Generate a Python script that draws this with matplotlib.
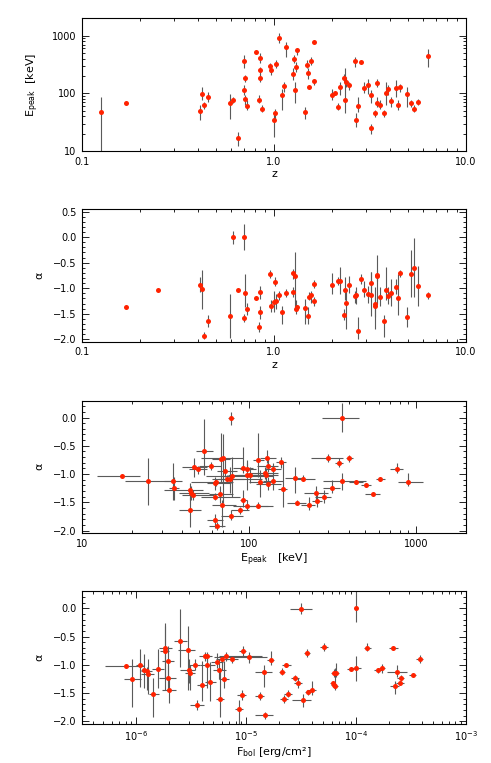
import numpy as np
import matplotlib
matplotlib.use("Agg")
import matplotlib.pyplot as plt
from matplotlib.ticker import NullFormatter, LogLocator, MultipleLocator

plt.rcParams['font.family'] = ['DejaVu Sans']
plt.rcParams['mathtext.default'] = 'regular'

# ---- panel 1: Epeak vs z ----
z1 = [0.125, 0.169, 0.41, 0.424, 0.434, 0.451, 0.592, 0.61, 0.652, 0.698,
      0.698, 0.705, 0.71, 0.72, 0.803, 0.846, 0.844, 0.846, 0.836, 0.862,
      0.957, 0.965, 1.0, 1.012, 1.024, 1.062, 1.10, 1.123, 1.159, 1.266,
      1.26, 1.291, 1.30, 1.318, 1.444, 1.486, 1.50, 1.527, 1.559, 1.609,
      1.622, 1.997, 2.07, 2.146, 2.208, 2.306, 2.344, 2.37, 2.448, 2.63,
      2.67, 2.74, 2.84, 2.93, 3.10, 3.21, 3.22, 3.36, 3.45, 3.45,
      3.57, 3.73, 3.81, 3.92, 4.08, 4.30, 4.42, 4.53, 4.91, 5.15,
      5.34, 5.65, 6.34]
ep1 = [48, 67, 49, 97, 64, 88, 69, 78, 17, 362,
       115, 79, 184, 61, 513, 409, 256, 188, 78, 54,
       297, 253, 35, 46, 317, 911, 92, 133, 627, 398,
       213, 115, 285, 556, 47, 309, 230, 130, 362, 787,
       161, 95, 101, 58, 130, 188, 78, 158, 139, 362,
       35, 61, 348, 126, 139, 92, 25, 45, 154, 68,
       63, 45, 101, 117, 75, 123, 62, 128, 97, 69,
       54, 71, 438]
ep1_lo = [5, 67, 34, 76, 54, 71, 36, 67, 12.2, 270,
          93, 62, 158, 51, 513, 330, 207, 158, 67, 48,
          236, 207, 17.5, 36, 270, 736, 51, 106, 431, 330,
          169, 67, 236, 461, 36, 270, 181, 130, 309, 787,
          139, 76, 101, 51, 93, 158, 45, 130, 114, 289,
          26, 48, 348, 102, 97, 67, 20, 39, 130, 58,
          54, 39, 62, 93, 58, 87, 51, 106, 58, 58,
          48, 62, 289]
ep1_hi = [87, 67, 62, 130, 71, 106, 99, 87, 21, 461,
          139, 93, 207, 76, 513, 493, 289, 221, 93, 62,
          330, 289, 45, 54, 377, 1098, 121, 158, 786, 461,
          270, 158, 353, 603, 58, 377, 270, 130, 431, 787,
          181, 121, 101, 67, 158, 221, 270, 194, 158, 431,
          45, 87, 348, 158, 181, 114, 30, 51, 181, 87,
          76, 51, 158, 139, 87, 169, 76, 148, 130, 76,
          62, 81, 578]

# ---- panel 2: alpha vs z ----
z2 = [0.169, 0.25, 0.41, 0.424, 0.434, 0.451, 0.592, 0.61, 0.652, 0.698,
      0.698, 0.705, 0.72, 0.803, 0.846, 0.844, 0.836, 0.957, 0.965, 1.0,
      1.012, 1.024, 1.062, 1.10, 1.159, 1.26, 1.26, 1.291, 1.30, 1.318,
      1.444, 1.50, 1.527, 1.559, 1.609, 1.622, 1.997, 2.146, 2.208, 2.306,
      2.344, 2.37, 2.448, 2.63, 2.67, 2.74, 2.84, 2.93, 3.10, 3.21,
      3.22, 3.36, 3.37, 3.44, 3.45, 3.57, 3.73, 3.81, 3.92, 4.08,
      4.30, 4.42, 4.53, 4.91, 5.15, 5.34, 5.65, 6.34]
al2 = [-1.36, -1.03, -0.93, -1.02, -1.94, -1.64, -1.55, 0.0, -1.04, 0.0,
       -1.58, -1.10, -1.40, -1.20, -1.07, -1.47, -1.76, -0.72, -1.35, -1.27,
       -0.87, -1.26, -1.14, -1.47, -1.09, -0.71, -1.08, -0.76, -1.40, -1.36,
       -1.38, -1.55, -1.17, -1.13, -0.92, -1.26, -0.93, -0.85, -0.85, -1.53,
       -1.03, -1.29, -0.93, -1.15, -1.13, -1.83, -0.82, -1.03, -1.12, -0.89,
       -1.13, -1.31, -1.35, -0.77, -0.75, -1.17, -1.64, -1.03, -1.15, -1.09,
       -0.98, -1.19, -0.71, -1.57, -0.72, -0.60, -0.95, -1.14]
al2_lo = [-1.36, -1.03, -1.08, -1.40, -1.99, -1.76, -1.97, -0.13, -1.04, -0.26,
          -1.66, -1.37, -1.53, -1.20, -1.21, -1.60, -1.86, -0.80, -1.47, -1.47,
          -0.95, -1.40, -1.24, -1.71, -1.17, -0.82, -1.18, -1.40, -1.50, -1.40,
          -1.70, -1.70, -1.24, -1.28, -1.00, -1.34, -1.11, -0.93, -1.11, -1.63,
          -1.24, -1.79, -1.10, -1.28, -1.31, -1.99, -0.91, -1.18, -1.28, -1.15,
          -1.55, -1.57, -1.79, -1.31, -0.85, -1.34, -1.95, -1.24, -1.31, -1.34,
          -1.11, -1.53, -0.78, -1.76, -1.18, -1.18, -1.34, -1.21]
al2_hi = [-1.36, -1.03, -0.78, -0.65, -1.86, -1.53, -1.11, 0.12, -1.04, 0.26,
          -1.50, -0.72, -1.28, -1.20, -0.95, -1.34, -1.66, -0.65, -1.24, -1.05,
          -0.78, -1.11, -1.05, -1.34, -1.02, -0.63, -0.98, -0.30, -1.24, -1.32,
          -1.21, -1.37, -1.08, -1.05, -0.84, -1.18, -0.71, -0.78, -0.58, -1.40,
          -0.79, -1.05, -0.76, -1.05, -0.98, -1.57, -0.72, -0.85, -0.95, -0.69,
          -0.69, -0.98, -1.18, -0.34, -0.65, -0.98, -1.53, -0.58, -0.98, -0.82,
          -0.82, -0.72, -0.65, -1.37, -0.26, -0.01, -0.56, -1.08]

# ---- panel 3: alpha vs Epeak ----
ep3 = [17.3, 25, 35, 35.5, 44.4, 45, 46, 46.9, 44.4, 49.6,
       53.8, 59, 63, 63, 63.5, 63, 64.5, 67.5, 67.8, 69.7,
       69, 71.6, 74.3, 77.6, 78.3, 78.5, 79.5, 88.7, 92, 92,
       96.9, 97, 97, 102, 114, 114, 116, 129, 130, 130,
       125, 127, 139, 140, 155, 160, 188, 193, 211, 228,
       253, 256, 281, 298, 316, 347, 363, 363, 398, 437,
       505, 553, 615, 773, 895]
ep3_lo = [12.3, 18, 31, 33, 31, 38, 40, 40, 38, 44,
          48, 50, 52, 56, 45, 56, 58, 58, 60, 52,
          60, 64, 60, 65, 75, 68, 55, 78, 88, 80,
          88, 80, 75, 86, 106, 95, 100, 116, 112, 110,
          100, 105, 125, 122, 145, 150, 165, 170, 190, 205,
          215, 240, 250, 237, 280, 330, 275, 280, 380, 400,
          470, 500, 580, 700, 780]
ep3_hi = [22.3, 34, 40, 38, 53, 58, 62, 56, 52, 56,
          61, 68, 88, 78, 80, 70, 72, 80, 77, 92,
          84, 85, 120, 93, 82, 92, 140, 100, 98, 106,
          110, 130, 140, 125, 124, 140, 135, 145, 150, 155,
          150, 150, 155, 160, 168, 170, 215, 220, 250, 250,
          300, 275, 310, 366, 350, 365, 460, 505, 420, 480,
          540, 610, 650, 840, 1104]
al3 = [-1.03, -1.12, -1.12, -1.25, -1.29, -1.34, -1.37, -0.87, -1.64, -0.92,
       -0.59, -0.86, -1.40, -1.165, -1.15, -1.81, -1.92, -1.35, -0.74, -0.72,
       -1.54, -0.95, -1.09, -1.09, 0.0, -1.74, -1.03, -1.64, -1.46, -0.89,
       -0.92, -1.56, -1.01, -1.02, -0.76, -1.56, -1.15, -0.71, -0.85, -1.17,
       -0.98, -1.02, -0.92, -1.12, -0.78, -1.27, -1.07, -1.51, -1.08, -1.54,
       -1.34, -1.47, -1.40, -0.72, -1.25, -0.81, 0.0, -1.12, -0.72, -1.14,
       -1.20, -1.35, -1.09, -0.91, -1.14]
al3_lo = [-1.03, -1.55, -1.46, -1.46, -1.46, -1.46, -1.46, -1.05, -1.93, -1.00,
          -1.02, -0.93, -1.46, -1.28, -1.22, -1.96, -1.99, -1.52, -1.16, -1.52,
          -1.93, -1.05, -1.16, -1.34, -0.14, -1.81, -1.40, -1.70, -1.58, -0.99,
          -1.05, -1.64, -1.28, -1.16, -1.05, -1.61, -1.40, -0.81, -0.96, -1.28,
          -1.08, -1.16, -1.00, -1.28, -0.90, -1.58, -1.34, -1.55, -1.11, -1.64,
          -1.46, -1.58, -1.52, -0.78, -1.34, -0.87, -0.25, -1.28, -0.78, -1.17,
          -1.22, -1.38, -1.13, -0.99, -1.22]
al3_hi = [-1.03, -0.72, -0.81, -1.05, -1.16, -1.22, -1.28, -0.72, -1.40, -0.85,
          -0.02, -0.78, -1.34, -1.05, -1.11, -1.70, -1.85, -1.22, -0.28, -0.30,
          -1.46, -0.72, -1.02, -0.87, 0.10, -1.64, -0.69, -1.58, -1.28, -0.52,
          -0.81, -1.46, -0.75, -0.87, -0.28, -1.50, -0.93, -0.58, -0.69, -1.05,
          -0.87, -0.90, -0.81, -0.99, -0.69, -0.78, -0.87, -1.46, -1.02, -1.40,
          -1.22, -1.34, -1.28, -0.64, -1.10, -0.72, 0.25, -0.99, -0.66, -1.11,
          -1.18, -1.32, -1.05, -0.81, -0.99]

# ---- panel 4: alpha vs Fbol ----
fb4 = [8.0e-7, 9.1e-7, 1.07e-6, 1.17e-6, 1.25e-6, 1.28e-6, 1.43e-6, 1.58e-6, 1.82e-6, 1.82e-6,
       1.95e-6, 1.95e-6, 2.0e-6, 2.5e-6, 2.93e-6, 2.99e-6, 3.1e-6, 3.42e-6, 3.54e-6, 3.99e-6,
       4.2e-6, 4.36e-6, 4.36e-6, 4.68e-6, 5.42e-6, 5.65e-6, 5.8e-6, 6.06e-6, 6.23e-6, 6.5e-6,
       7.4e-6, 8.6e-6, 9.1e-6, 9.3e-6, 1.05e-5, 1.33e-5, 1.46e-5, 1.47e-5, 1.67e-5, 2.13e-5,
       2.22e-5, 2.3e-5, 2.38e-5, 2.8e-5, 2.95e-5, 3.17e-5, 3.27e-5, 3.57e-5, 3.67e-5, 3.95e-5,
       5.15e-5, 6.27e-5, 6.1e-5, 6.25e-5, 6.45e-5, 6.6e-5, 8.9e-5, 1.0e-4, 1.0e-4, 1.27e-4,
       1.58e-4, 1.73e-4, 2.19e-4, 2.24e-4, 2.37e-4, 2.52e-4, 2.54e-4, 3.27e-4, 3.79e-4]
fb4_lo = [5.2e-7, 7.7e-7, 1.0e-6, 1.1e-6, 1.1e-6, 1.1e-6, 1.3e-6, 1.4e-6, 1.6e-6, 1.65e-6,
          1.7e-6, 1.6e-6, 1.7e-6, 2.2e-6, 2.4e-6, 2.5e-6, 2.8e-6, 3.0e-6, 3.1e-6, 3.6e-6,
          3.7e-6, 3.8e-6, 4.0e-6, 4.2e-6, 4.8e-6, 5.0e-6, 5.3e-6, 5.3e-6, 5.6e-6, 5.6e-6,
          6.5e-6, 7.9e-6, 8.3e-6, 8.6e-6, 5.05e-6, 1.2e-5, 1.2e-5, 1.2e-5, 1.55e-5, 2.0e-5,
          2.05e-5, 2.1e-5, 2.2e-5, 2.55e-5, 2.7e-5, 2.52e-5, 2.6e-5, 3.35e-5, 3.45e-5, 3.6e-5,
          4.7e-5, 5.9e-5, 5.8e-5, 5.95e-5, 6.1e-5, 6.2e-5, 8.2e-5, 1.0e-4, 9.2e-5, 1.17e-4,
          1.45e-4, 1.6e-4, 2.0e-4, 2.05e-4, 1.9e-4, 2.3e-4, 2.35e-4, 3.0e-4, 3.5e-4]
fb4_hi = [1.17e-6, 1.1e-6, 1.15e-6, 1.25e-6, 1.4e-6, 1.45e-6, 1.6e-6, 1.8e-6, 2.1e-6, 2.0e-6,
          2.2e-6, 2.3e-6, 2.3e-6, 2.9e-6, 3.4e-6, 3.4e-6, 3.4e-6, 3.8e-6, 4.1e-6, 4.4e-6,
          4.7e-6, 5.2e-6, 4.9e-6, 5.3e-6, 6.1e-6, 6.5e-6, 6.3e-6, 6.8e-6, 6.9e-6, 1.4e-5,
          8.5e-6, 9.3e-6, 1.0e-5, 1.0e-5, 1.54e-5, 1.45e-5, 1.7e-5, 1.75e-5, 1.8e-5, 2.25e-5,
          2.4e-5, 2.55e-5, 2.6e-5, 3.05e-5, 3.2e-5, 3.97e-5, 3.9e-5, 3.8e-5, 3.9e-5, 4.3e-5,
          5.6e-5, 6.6e-5, 6.4e-5, 6.6e-5, 6.8e-5, 7.0e-5, 9.6e-5, 1.0e-4, 1.1e-4, 1.38e-4,
          1.72e-4, 1.85e-4, 2.4e-4, 2.45e-4, 2.9e-4, 2.75e-4, 2.75e-4, 3.5e-4, 4.1e-4]
al4 = [-1.02, -1.26, -1.01, -1.10, -1.11, -1.17, -1.52, -1.07, -0.70, -0.75,
       -0.93, -1.23, -1.44, -0.58, -0.73, -1.09, -1.14, -1.01, -1.72, -1.35,
       -0.84, -1.00, -0.85, -1.31, -0.95, -1.09, -1.61, -0.90, -1.26, -0.85,
       -0.90, -1.78, -1.54, -0.76, -0.87, -1.55, -1.13, -1.89, -0.91, -1.12,
       -1.61, -1.01, -1.51, -1.23, -1.33, -0.01, -1.63, -0.79, -1.49, -1.44,
       -0.69, -1.15, -1.32, -1.36, -1.38, -1.14, -1.07, 0.0, -1.06, -0.70,
       -1.10, -1.06, -0.70, -1.38, -1.12, -1.32, -1.23, -1.18, -0.90]
al4_lo = [-1.02, -1.74, -1.39, -1.42, -1.45, -1.51, -1.93, -1.42, -1.45, -1.24,
          -1.24, -1.45, -1.68, -1.04, -1.45, -1.33, -1.45, -1.10, -1.80, -1.65,
          -0.93, -1.42, -1.00, -1.65, -1.05, -1.25, -1.93, -1.10, -1.42, -0.93,
          -0.96, -2.05, -1.62, -0.84, -0.96, -1.62, -1.39, -1.96, -1.01, -1.18,
          -1.68, -1.04, -1.57, -1.28, -1.42, -0.10, -1.74, -0.86, -1.54, -1.54,
          -0.76, -1.22, -1.36, -1.42, -1.45, -1.22, -1.10, -0.24, -1.28, -0.76,
          -1.14, -1.14, -0.72, -1.51, -1.22, -1.36, -1.28, -1.20, -0.96]
al4_hi = [-1.02, -0.90, -0.72, -0.81, -1.04, -0.90, -1.24, -0.72, -0.26, -0.31,
          -0.66, -1.01, -1.24, -0.02, -0.31, -0.90, -1.00, -0.90, -1.62, -0.93,
          -0.78, -0.84, -0.78, -0.95, -0.80, -0.90, -1.05, -0.84, -0.93, -0.78,
          -0.84, -1.62, -1.45, -0.66, -0.78, -1.48, -1.00, -1.83, -0.76, -1.06,
          -1.53, -0.98, -1.45, -1.18, -1.24, 0.10, -1.51, -0.72, -1.44, -1.28,
          -0.62, -1.08, -1.28, -1.30, -1.05, -0.96, -1.04, 0.30, -0.84, -0.62,
          -1.06, -0.98, -0.68, -1.28, -1.00, -1.28, -1.18, -1.16, -0.82]


def errs(v, lo, hi):
    v = np.asarray(v, float)
    return [np.clip(v - np.asarray(lo, float), 0, None),
            np.clip(np.asarray(hi, float) - v, 0, None)]


def draw_points(ax, x, y, xerr=None, yerr=None):
    ax.errorbar(x, y, xerr=xerr, yerr=yerr, fmt='none', ecolor='#5a5a5a',
                elinewidth=0.8, capsize=0, zorder=2)
    ax.plot(x, y, 'o', ms=3.6, mfc='#ff2200', mec='#ff2200', mew=0, zorder=3)


def style_axis(ax):
    ax.tick_params(which='both', direction='in', top=True, right=True,
                   labelsize=7, width=0.6, colors='black')
    ax.tick_params(which='major', length=5, pad=4)
    ax.tick_params(which='minor', length=2.5)
    for s in ax.spines.values():
        s.set_linewidth(0.8)


fig = plt.figure(figsize=(4.91, 7.63), dpi=100)
L, W, H = 0.167, 0.782, 0.174
bottoms = [0.802, 0.552, 0.301, 0.051]
axs = [fig.add_axes([L, b, W, H]) for b in bottoms]

alpha_ticks = [0.0, -0.5, -1.0, -1.5, -2.0]
alpha_labels = ['0.0', '\u22120.5', '\u22121.0', '\u22121.5', '\u22122.0']

# panel 1
ax = axs[0]
draw_points(ax, z1, ep1, yerr=errs(ep1, ep1_lo, ep1_hi))
ax.set_xscale('log')
ax.set_yscale('log')
ax.set_xlim(0.1, 10)
ax.set_ylim(10, 2000)
ax.set_xticks([0.1, 1, 10])
ax.set_xticklabels(['0.1', '1.0', '10.0'])
ax.set_yticks([10, 100, 1000])
ax.set_yticklabels(['10', '100', '1000'])
ax.set_xlabel('z', fontsize=8, labelpad=2)
ax.set_ylabel(r'E$_{\rm peak}$  [keV]', fontsize=8, labelpad=8)

# panel 2
ax = axs[1]
draw_points(ax, z2, al2, yerr=errs(al2, al2_lo, al2_hi))
ax.set_xscale('log')
ax.set_xlim(0.1, 10)
ax.set_ylim(-2.05, 0.55)
ax.set_xticks([0.1, 1, 10])
ax.set_xticklabels(['0.1', '1.0', '10.0'])
ax.set_yticks([0.5] + alpha_ticks)
ax.set_yticklabels(['0.5'] + alpha_labels)
ax.yaxis.set_minor_locator(MultipleLocator(0.1))
ax.set_xlabel('z', fontsize=8, labelpad=2)
ax.set_ylabel(r'$\alpha$', fontsize=8, labelpad=6)

# panel 3
ax = axs[2]
draw_points(ax, ep3, al3, xerr=errs(ep3, ep3_lo, ep3_hi),
            yerr=errs(al3, al3_lo, al3_hi))
ax.set_xscale('log')
ax.set_xlim(10, 2000)
ax.set_ylim(-2.05, 0.3)
ax.set_xticks([10, 100, 1000])
ax.set_xticklabels(['10', '100', '1000'])
ax.set_yticks(alpha_ticks)
ax.set_yticklabels(alpha_labels)
ax.yaxis.set_minor_locator(MultipleLocator(0.1))
ax.set_xlabel(r'E$_{\rm peak}$   [keV]', fontsize=8, labelpad=2)
ax.set_ylabel(r'$\alpha$', fontsize=8, labelpad=6)

# panel 4
ax = axs[3]
draw_points(ax, fb4, al4, xerr=errs(fb4, fb4_lo, fb4_hi),
            yerr=errs(al4, al4_lo, al4_hi))
ax.set_xscale('log')
ax.set_xlim(3.2e-7, 1e-3)
ax.set_ylim(-2.05, 0.3)
ax.set_xticks([1e-6, 1e-5, 1e-4, 1e-3])
ax.set_xticklabels([r'10$^{-6}$', r'10$^{-5}$', r'10$^{-4}$', r'10$^{-3}$'])
ax.set_yticks(alpha_ticks)
ax.set_yticklabels(alpha_labels)
ax.yaxis.set_minor_locator(MultipleLocator(0.1))
ax.set_xlabel(r'F$_{\rm bol}$ [erg/cm²]', fontsize=8, labelpad=1)
ax.set_ylabel(r'$\alpha$', fontsize=8, labelpad=6)

for ax in axs:
    ax.xaxis.set_minor_locator(LogLocator(base=10, subs=np.arange(2, 10)))
    ax.xaxis.set_minor_formatter(NullFormatter())
    if ax is axs[0]:
        ax.yaxis.set_minor_locator(LogLocator(base=10, subs=np.arange(2, 10)))
        ax.yaxis.set_minor_formatter(NullFormatter())
    style_axis(ax)

fig.savefig('out.png', dpi=100)
